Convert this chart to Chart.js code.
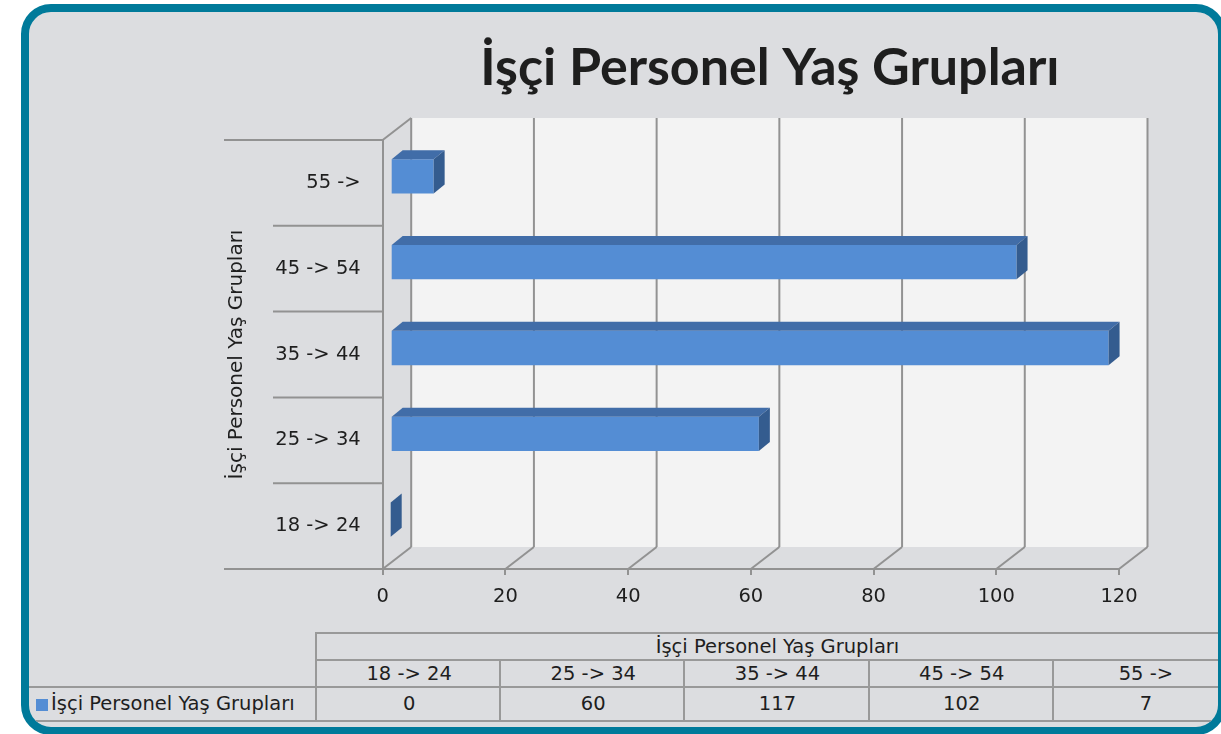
<!DOCTYPE html>
<html><head><meta charset="utf-8">
<script src="https://cdn.jsdelivr.net/npm/chart.js@4.4.1/dist/chart.umd.min.js"></script>
<style>
html,body{margin:0;padding:0;width:1221px;height:734px;overflow:hidden;background:#ffffff;}
#frame{position:absolute;left:21px;top:4px;width:1205px;height:731px;box-sizing:border-box;border:8px solid #007a9a;border-radius:30px;background:#dcdde0;overflow:hidden;z-index:1;}
#c{position:absolute;left:0;top:0;z-index:2;}
.cell{position:absolute;box-sizing:border-box;border-top:2px solid #999;border-left:2px solid #999;font-family:'DejaVu Sans',sans-serif;font-size:19.5px;color:#1e1e1e;text-align:center;white-space:nowrap;overflow:hidden;}
.mark{display:inline-block;width:12px;height:12px;background:#548dd4;margin-right:3px;vertical-align:-1px;}
</style></head>
<body>
<div id="frame"></div>
<canvas id="c" width="1221" height="734"></canvas>
<script>
// ---- data ----
const categories = ['18 -> 24', '25 -> 34', '35 -> 44', '45 -> 54', '55 ->'];
const values = [0, 60, 117, 102, 7];
const seriesLabel = 'İşçi Personel Yaş Grupları';
const chartTitle = 'İşçi Personel Yaş Grupları';
const axisTitle = 'İşçi Personel Yaş Grupları';
const tableTitle = 'İşçi Personel Yaş Grupları';
const xMin = 0, xMax = 120, xStep = 20;

// ---- style constants ----
const FONT = "'DejaVu Sans', sans-serif";
const TEXT = '#1e1e1e';
const GRID = '#929292';
const BAR_FRONT = '#548dd4';
const BAR_TOP = '#416da8';
const BAR_SIDE = '#345c8f';
const DX = 28.5, DY = -22;   // depth of the 3D box
const BDX = 8, BDY = -6.5;   // bar front face offset into depth
const FDX = 11, FDY = -9;    // bar depth

// ---- data table (HTML) ----
(function buildTable(){
  const frame = document.getElementById('frame');
  const ox = 29, oy = 12; // frame content origin
  const colL = 315, colW = 184.2;
  function cell(x, y, w, h, html, extra){
    const d = document.createElement('div');
    d.className = 'cell';
    d.style.left = (x - ox) + 'px'; d.style.top = (y - oy) + 'px';
    d.style.width = w + 'px'; d.style.height = h + 'px';
    d.style.lineHeight = (h - 2 - (extra && extra.bottom ? 2 : 0)) + 'px';
    if (extra && extra.bottom) d.style.borderBottom = '2px solid #999';
    if (extra && extra.noLeft) d.style.borderLeft = 'none';
    if (extra && extra.align) { d.style.textAlign = extra.align; d.style.paddingLeft = extra.pl + 'px'; }
    d.innerHTML = html;
    frame.appendChild(d);
  }
  cell(colL, 632, colW * categories.length + 2, 28, tableTitle);
  categories.forEach((c, i) => cell(colL + i * colW, 659, colW + 2, 28, c.replace('>', '&gt;')));
  cell(ox, 686, colL - ox, 36, '<span class="mark"></span>' + seriesLabel, {bottom: true, noLeft: true, align: 'left', pl: 7});
  values.forEach((v, i) => cell(colL + i * colW, 686, colW + 2, 36, String(v), {bottom: true}));
})();

// ---- 3D plugin ----
function poly(ctx, pts, fill){
  ctx.beginPath(); ctx.moveTo(pts[0][0], pts[0][1]);
  for (let i = 1; i < pts.length; i++) ctx.lineTo(pts[i][0], pts[i][1]);
  ctx.closePath(); ctx.fillStyle = fill; ctx.fill();
}
function seg(ctx, x1, y1, x2, y2){ ctx.beginPath(); ctx.moveTo(x1, y1); ctx.lineTo(x2, y2); ctx.stroke(); }

const threeD = {
  id: 'threeD',
  beforeDraw(chart){
    const ctx = chart.ctx, a = chart.chartArea, xs = chart.scales.x;
    const L = a.left, R = a.right, T = a.top, B = a.bottom;
    ctx.save();
    poly(ctx, [[L + DX, T + DY], [R + DX, T + DY], [R + DX, B + DY], [L + DX, B + DY]], '#f3f3f3');
    poly(ctx, [[L, B], [R, B], [R + DX, B + DY], [L + DX, B + DY]], '#dcdde0');
    poly(ctx, [[L, T], [L + DX, T + DY], [L + DX, B + DY], [L, B]], '#dcdde0');
    ctx.strokeStyle = GRID; ctx.lineWidth = 2;
    for (let v = xMin; v <= xMax; v += xStep) {
      const px = xs.getPixelForValue(v);
      seg(ctx, px + DX, T + DY, px + DX, B + DY);
      seg(ctx, px, B, px + DX, B + DY);
    }
    seg(ctx, L, T, L + DX, T + DY);
    const n = categories.length, bh = (B - T) / n;
    for (let k = 0; k <= n; k++) {
      const yy = T + k * bh;
      seg(ctx, (k === 0 || k === n) ? 224 : 273, yy, L, yy);
    }
    ctx.restore();
  },
  beforeDatasetsDraw(chart){ chart.ctx.save(); chart.ctx.translate(BDX, BDY); },
  afterDatasetsDraw(chart){
    const ctx = chart.ctx;
    chart.getDatasetMeta(0).data.forEach(bar => {
      const p = bar.getProps(['x', 'y', 'base', 'height'], true);
      const x0 = Math.min(p.base, p.x), x1 = Math.max(p.base, p.x);
      const t = p.y - p.height / 2, b = p.y + p.height / 2;
      if (x1 > x0) poly(ctx, [[x0, t], [x1, t], [x1 + FDX, t + FDY], [x0 + FDX, t + FDY]], BAR_TOP);
      poly(ctx, [[x1, t], [x1 + FDX, t + FDY], [x1 + FDX, b + FDY], [x1, b]], BAR_SIDE);
    });
    ctx.restore();
  },
  afterDraw(chart){
    const ctx = chart.ctx;
    ctx.save();
    ctx.font = "bold 52px Lato, sans-serif";
    ctx.fillStyle = TEXT; ctx.textAlign = 'center'; ctx.textBaseline = 'alphabetic';
    ctx.fillText(chartTitle, 770, 85);
    ctx.restore();
  }
};

new Chart(document.getElementById('c'), {
  type: 'bar',
  data: {
    labels: categories,
    datasets: [{
      label: seriesLabel, data: values, backgroundColor: BAR_FRONT, borderWidth: 0,
      barPercentage: 0.4, categoryPercentage: 1, clip: false
    }]
  },
  options: {
    indexAxis: 'y', responsive: false, animation: false, events: [],
    layout: {padding: {left: 220, top: 140, right: 102, bottom: 115}},
    plugins: {legend: {display: false}, title: {display: false}, tooltip: {enabled: false}},
    scales: {
      x: {
        min: xMin, max: xMax,
        ticks: {stepSize: xStep, padding: 10, color: TEXT, font: {family: FONT, size: 19.5}},
        grid: {drawOnChartArea: false, drawTicks: true, tickLength: 6, color: GRID, lineWidth: 2},
        border: {display: true, color: GRID, width: 2},
        afterFit(s){ s.height = 50; }
      },
      y: {
        reverse: true,
        ticks: {padding: 22, color: TEXT, font: {family: FONT, size: 19.5}},
        grid: {drawOnChartArea: false, drawTicks: false, color: GRID, lineWidth: 2},
        border: {display: true, color: GRID, width: 2},
        title: {display: true, text: axisTitle, color: TEXT, font: {family: FONT, size: 20}, padding: {top: 5, bottom: 0}},
        afterFit(s){ s.width = 162.7; }
      }
    }
  },
  plugins: [threeD]
});
</script>
</body></html>
